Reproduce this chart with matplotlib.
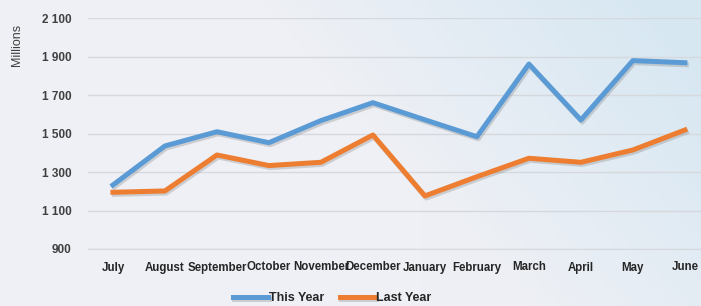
import numpy as np
import matplotlib.pyplot as plt
from matplotlib.colors import to_rgb
import matplotlib.patheffects as pe

months = ['July', 'August', 'September', 'October', 'November', 'December',
          'January', 'February', 'March', 'April', 'May', 'June']
this_year = [1233, 1436, 1510, 1453, 1568, 1661, 1572, 1484, 1862, 1571, 1880, 1869]
last_year = [1195, 1202, 1389, 1334, 1351, 1493, 1176, 1276, 1372, 1351, 1415, 1519]
yticks = [900, 1100, 1300, 1500, 1700, 1900, 2100]

W, H = 701, 306
fig = plt.figure(figsize=(W / 100, H / 100), dpi=100)

# background gradient: pale grey with a blue tint towards the upper right
bg = fig.add_axes([0, 0, 1, 1], zorder=-10)
xx, yy = np.meshgrid(np.linspace(0, 1, 200), np.linspace(1, 0, 100))
t = np.clip(1.6 * xx - 0.6 - 0.6 * (1 - yy), 0, 1)
t = np.clip(t + 0.25 * np.clip(xx - 0.6, 0, 1) * yy, 0, 1)
c0 = np.array(to_rgb('#eef0f5'))
c1 = np.array(to_rgb('#d6e7f2'))
img = c0[None, None, :] * (1 - t[..., None]) + c1[None, None, :] * t[..., None]
bg.imshow(img, aspect='auto', extent=[0, 1, 0, 1])
bg.axis('off')

ax = fig.add_axes([88 / W, (H - 249) / H, 1 - 88 / W, (249 - 18.3) / H])
ax.patch.set_alpha(0)
x = np.arange(len(months))

shadow = [pe.SimpleLineShadow(offset=(1.0, -1.5), shadow_color='#666666', alpha=0.25), pe.Normal()]
ax.plot(x, this_year, color='#5b9bd5', lw=3.6, label='This Year',
        solid_joinstyle='round', path_effects=shadow, zorder=3)
ax.plot(x, last_year, color='#ed7d31', lw=3.6, label='Last Year',
        solid_joinstyle='round', path_effects=shadow, zorder=3)

ax.set_xlim(-0.48, 11.31)
ax.set_ylim(900, 2100)
ax.set_yticks(yticks)
ax.set_yticklabels([f'{v:,}'.replace(',', ' ') for v in yticks],
                   fontsize=8.5, color='#404040', fontweight='bold', family='Liberation Sans')
ax.set_xticks(x)
ax.set_xticklabels(months, fontsize=8.3, color='#262626', fontweight='bold', family='Liberation Sans')
ax.grid(axis='y', color='#d5d8dd', lw=1)
ax.set_axisbelow(True)
for s in ['top', 'right', 'left']:
    ax.spines[s].set_visible(False)
ax.spines['bottom'].set_color('#d5d8dd')
ax.tick_params(axis='y', length=0, pad=12)
ax.tick_params(axis='x', length=0, pad=9)

fig.text(17 / W, 1 - 45 / H, 'Millions', rotation=90, ha='center', va='center',
         fontsize=9, color='#404040', family='Liberation Sans')

fig.legend(loc='center', bbox_to_anchor=(332 / W, 1 - 298 / H), ncol=2, frameon=False,
           handlelength=2.8, handletextpad=0.1, columnspacing=1.2,
           prop={'size': 9, 'weight': 'bold', 'family': 'Liberation Sans'})
for txt in fig.legends[0].get_texts():
    txt.set_color('#262626')

fig.savefig('out.png', dpi=100)
